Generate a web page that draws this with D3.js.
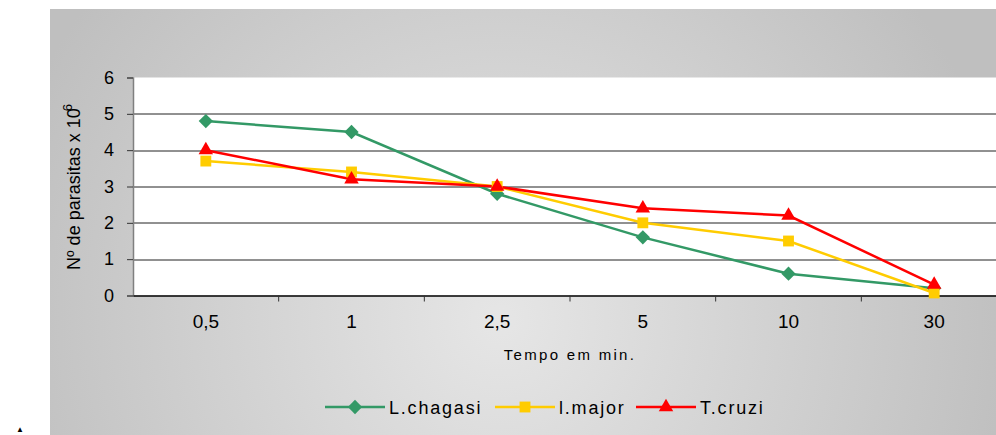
<!DOCTYPE html>
<html>
<head>
<meta charset="utf-8">
<script src="https://cdn.jsdelivr.net/npm/d3@7"></script>
<style>
  body { margin: 0; background: #fff; }
  svg { display: block; font-family: "Liberation Sans", Arial, sans-serif; }
</style>
</head>
<body>
<svg width="996" height="435"></svg>
<script>
// data
var categories = ["0,5", "1", "2,5", "5", "10", "30"];
var chagasi = [4.8, 4.5, 2.8, 1.6, 0.6, 0.2];
var major   = [3.7, 3.4, 3.0, 2.0, 1.5, 0.07];
var cruzi   = [4.0, 3.2, 3.0, 2.4, 2.2, 0.3];
var yTicks  = [0, 1, 2, 3, 4, 5, 6];

var series = [
  {name: "L.chagasi", values: chagasi, color: "#339966", symbol: d3.symbolDiamond2, size: 130},
  {name: "l.major",   values: major,   color: "#FFCC00", symbol: d3.symbolSquare2,  size: 150},
  {name: "T.cruzi",   values: cruzi,   color: "#FF0000", symbol: d3.symbolTriangle2, size: 150}
];

var svg = d3.select("svg");

// background panel with soft gradient
var defs = svg.append("defs");
var grad = defs.append("radialGradient")
  .attr("id", "bg")
  .attr("gradientUnits", "userSpaceOnUse")
  .attr("cx", 500).attr("cy", 320).attr("r", 520);
grad.append("stop").attr("offset", "0%").attr("stop-color", "#e6e6e6");
grad.append("stop").attr("offset", "100%").attr("stop-color", "#bfbfbf");

svg.append("rect")
  .attr("x", 50).attr("y", 9)
  .attr("width", 946).attr("height", 426)
  .attr("fill", "url(#bg)");

// stray mark bottom left
svg.append("text")
  .attr("x", 20).attr("y", 432)
  .attr("text-anchor", "middle")
  .style("font-size", "8px")
  .text("▲");

var margin = {left: 133, top: 77.5},
    width = 874,
    height = 218;

var g = svg.append("g")
  .attr("transform", "translate(" + margin.left + "," + margin.top + ")");

var x = d3.scaleBand().domain(categories).range([0, width]);
var y = d3.scaleLinear().domain([0, 6]).range([height, 0]);

g.append("rect")
  .attr("width", width).attr("height", height)
  .attr("fill", "#fff");

// gridlines
g.selectAll(".grid")
  .data(yTicks.filter(function(d) { return d > 0 && d < 6; }))
  .enter().append("line")
  .attr("x1", 0).attr("x2", width)
  .attr("y1", function(d) { return Math.round(y(d)) + 0.5; })
  .attr("y2", function(d) { return Math.round(y(d)) + 0.5; })
  .attr("stroke", "#222").attr("stroke-width", 1);

// y axis
var yAxis = g.append("g")
  .call(d3.axisLeft(y).tickValues(yTicks).tickFormat(d3.format("d")).tickSize(6).tickPadding(13));
yAxis.select(".domain").attr("stroke", "#808080").attr("stroke-width", 1.5);
yAxis.selectAll(".tick line").attr("stroke", "#333");
yAxis.selectAll("text").style("font-size", "18px").attr("fill", "#000");

// x axis
var xAxis = g.append("g")
  .attr("transform", "translate(0," + height + ")")
  .call(d3.axisBottom(x).tickSize(0).tickPadding(19));
xAxis.select(".domain").attr("stroke", "#000").attr("stroke-width", 1.5);
xAxis.selectAll("text").style("font-size", "19px").attr("fill", "#000");
xAxis.selectAll(".sep")
  .data(categories.slice(1))
  .enter().append("line")
  .attr("class", "sep")
  .attr("x1", function(d) { return x(d); })
  .attr("x2", function(d) { return x(d); })
  .attr("y1", 0).attr("y2", 6)
  .attr("stroke", "#333");

// axis titles
svg.append("text")
  .attr("transform", "translate(80,187) rotate(-90)")
  .attr("text-anchor", "middle")
  .style("font-size", "18px")
  .text("Nº de parasitas x 10")
  .append("tspan")
  .attr("dy", -8).attr("dx", -3)
  .style("font-size", "13px")
  .text("6");

svg.append("text")
  .attr("x", 570).attr("y", 360)
  .attr("text-anchor", "middle")
  .style("font-size", "15px")
  .style("letter-spacing", "2.3px")
  .text("Tempo em min.");

// lines and markers
var line = d3.line()
  .x(function(d, i) { return x(categories[i]) + x.bandwidth() / 2; })
  .y(function(d) { return y(d); });

series.forEach(function(s) {
  g.append("path")
    .datum(s.values)
    .attr("fill", "none")
    .attr("stroke", s.color)
    .attr("stroke-width", 2.5)
    .attr("d", line);
});

series.forEach(function(s) {
  g.selectAll(null)
    .data(s.values)
    .enter().append("path")
    .attr("transform", function(d, i) {
      return "translate(" + (x(categories[i]) + x.bandwidth() / 2) + "," + y(d) + ")";
    })
    .attr("d", d3.symbol().type(s.symbol).size(s.size))
    .attr("fill", s.color);
});

// legend
var legendX = [325, 495, 636];
var legend = svg.append("g");
series.forEach(function(s, i) {
  var lg = legend.append("g").attr("transform", "translate(" + legendX[i] + ",407)");
  lg.append("line").attr("x1", 0).attr("x2", 60)
    .attr("stroke", s.color).attr("stroke-width", 2.5);
  lg.append("path")
    .attr("transform", "translate(30,0)")
    .attr("d", d3.symbol().type(s.symbol).size(s.size))
    .attr("fill", s.color);
  lg.append("text")
    .attr("x", 64).attr("y", 6.5)
    .style("font-size", "18px")
    .style("letter-spacing", "1.8px")
    .text(s.name);
});
</script>
</body>
</html>
